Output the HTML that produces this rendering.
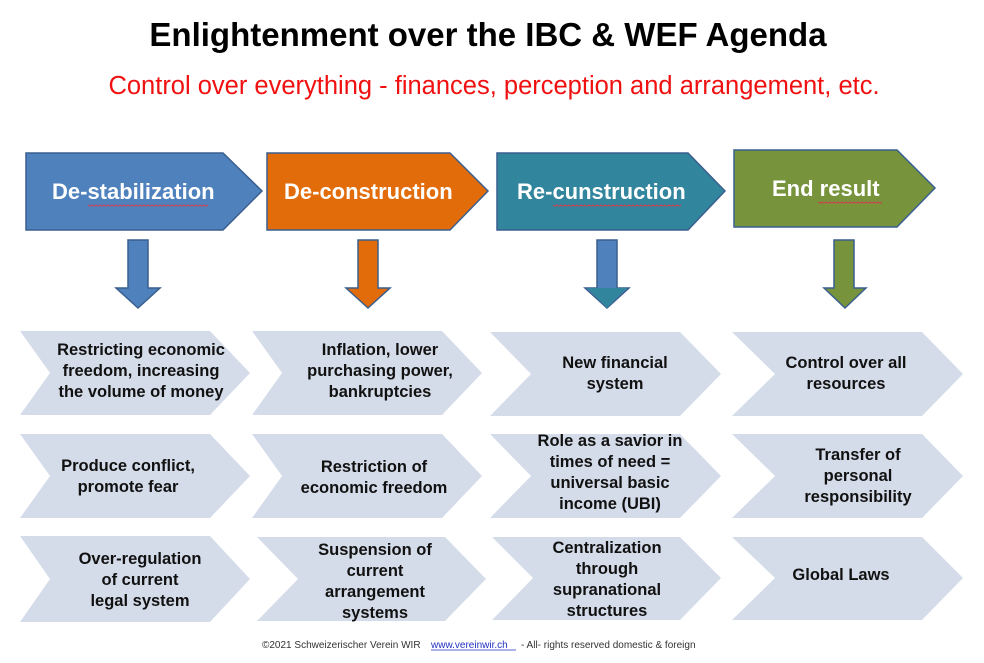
<!DOCTYPE html>
<html><head><meta charset="utf-8"><style>
html,body{margin:0;padding:0;background:#fff;}
svg{display:block;font-family:"Liberation Sans",Arial,sans-serif;}
.h{font-size:22px;font-weight:bold;fill:#fff;}
.t{font-size:16.5px;font-weight:bold;fill:#111;text-anchor:middle;}
</style></head><body>
<svg width="984" height="663" viewBox="0 0 984 663">
<rect width="984" height="663" fill="#fff"/>
<text x="488" y="46" font-size="33" font-weight="bold" text-anchor="middle" fill="#000">Enlightenment over the IBC &amp; WEF Agenda</text>
<text x="494" y="94" font-size="25.5" text-anchor="middle" fill="#f01010">Control over everything - finances, perception and arrangement, etc.</text>

<polygon points="26,153 223,153 262,191 223,230 26,230" fill="#4f81bd" stroke="#3a5f8f" stroke-width="1.5"/>
<polygon points="267,153 450,153 488,191 450,230 267,230" fill="#e36c0a" stroke="#3a5f8f" stroke-width="1.5"/>
<polygon points="497,153 688,153 725,191 688,230 497,230" fill="#31859c" stroke="#3a5f8f" stroke-width="1.5"/>
<polygon points="734,150 897,150 935,188 897,227 734,227" fill="#77933c" stroke="#3a5f8f" stroke-width="1.5"/>
<text class="h" x="52" y="199">De-stabilization</text>
<text class="h" x="284" y="199">De-construction</text>
<text class="h" x="517" y="199">Re-cunstruction</text>
<text class="h" x="772" y="196">End result</text>
<g stroke="#d04050" stroke-width="1" fill="none">
<path d="M88 205 q2 2 4 0 q2 2 4 0 q2 2 4 0 q2 2 4 0 q2 2 4 0 q2 2 4 0 q2 2 4 0 q2 2 4 0 q2 2 4 0 q2 2 4 0 q2 2 4 0 q2 2 4 0 q2 2 4 0 q2 2 4 0 q2 2 4 0 q2 2 4 0 q2 2 4 0 q2 2 4 0 q2 2 4 0 q2 2 4 0 q2 2 4 0 q2 2 4 0 q2 2 4 0 q2 2 4 0 q2 2 4 0 q2 2 4 0 q2 2 4 0 q2 2 4 0 q2 2 4 0 q2 2 4 0"/>
<path d="M553 205 q2 2 4 0 q2 2 4 0 q2 2 4 0 q2 2 4 0 q2 2 4 0 q2 2 4 0 q2 2 4 0 q2 2 4 0 q2 2 4 0 q2 2 4 0 q2 2 4 0 q2 2 4 0 q2 2 4 0 q2 2 4 0 q2 2 4 0 q2 2 4 0 q2 2 4 0 q2 2 4 0 q2 2 4 0 q2 2 4 0 q2 2 4 0 q2 2 4 0 q2 2 4 0 q2 2 4 0 q2 2 4 0 q2 2 4 0 q2 2 4 0 q2 2 4 0 q2 2 4 0 q2 2 4 0 q2 2 4 0 q2 2 4 0"/>
<path d="M818 202 q2 2 4 0 q2 2 4 0 q2 2 4 0 q2 2 4 0 q2 2 4 0 q2 2 4 0 q2 2 4 0 q2 2 4 0 q2 2 4 0 q2 2 4 0 q2 2 4 0 q2 2 4 0 q2 2 4 0 q2 2 4 0 q2 2 4 0 q2 2 4 0"/>
</g>

<g stroke="#3a5f8f" stroke-width="1.5">
<polygon points="128,240 148,240 148,288 160,288 138,308 116,288 128,288" fill="#4f81bd"/>
<polygon points="358,240 378,240 378,288 390,288 368,308 346,288 358,288" fill="#e36c0a"/>
<polygon points="597,240 617,240 617,288 629,288 607,308 585,288 597,288" fill="#4f81bd"/>
<polygon points="587,288 627,288 607,308" fill="#31859c" stroke="none"/>
<polygon points="834,240 854,240 854,288 866,288 845,308 824,288 834,288" fill="#77933c"/>
</g>

<g fill="#d5dce9">
<polygon points="20,331 210,331 250,373 210,415 20,415 50,373"/>
<polygon points="252,331 442,331 482,373 442,415 252,415 282,373"/>
<polygon points="490,332 680,332 721,374 680,416 490,416 531,374"/>
<polygon points="732,332 922,332 963,374 922,416 732,416 775,374"/>
<polygon points="20,434 210,434 250,476 210,518 20,518 50,476"/>
<polygon points="252,434 442,434 482,476 442,518 252,518 282,476"/>
<polygon points="490,434 680,434 721,476 680,518 490,518 531,476"/>
<polygon points="732,434 922,434 963,476 922,518 732,518 775,476"/>
<polygon points="20,536 210,536 250,579 210,622 20,622 50,579"/>
<polygon points="257,537 445,537 486,579 445,621 257,621 298,579"/>
<polygon points="492,537 680,537 721,578 680,620 492,620 533,578"/>
<polygon points="732,537 922,537 963,578 922,620 732,620 775,578"/>
</g>

<text class="t" x="141" y="355">Restricting economic</text>
<text class="t" x="141" y="376">freedom, increasing</text>
<text class="t" x="141" y="397">the volume of money</text>
<text class="t" x="380" y="355">Inflation, lower</text>
<text class="t" x="380" y="376">purchasing power,</text>
<text class="t" x="380" y="397">bankruptcies</text>
<text class="t" x="615" y="368">New financial</text>
<text class="t" x="615" y="389">system</text>
<text class="t" x="846" y="368">Control over all</text>
<text class="t" x="846" y="389">resources</text>

<text class="t" x="128" y="471">Produce conflict,</text>
<text class="t" x="128" y="492">promote fear</text>
<text class="t" x="374" y="472">Restriction of</text>
<text class="t" x="374" y="493">economic freedom</text>
<text class="t" x="610" y="446">Role as a savior in</text>
<text class="t" x="610" y="467">times of need =</text>
<text class="t" x="610" y="488">universal basic</text>
<text class="t" x="610" y="509">income (UBI)</text>
<text class="t" x="858" y="460">Transfer of</text>
<text class="t" x="858" y="481">personal</text>
<text class="t" x="858" y="502">responsibility</text>

<text class="t" x="140" y="564">Over-regulation</text>
<text class="t" x="140" y="585">of current</text>
<text class="t" x="140" y="606">legal system</text>
<text class="t" x="375" y="555">Suspension of</text>
<text class="t" x="375" y="576">current</text>
<text class="t" x="375" y="597">arrangement</text>
<text class="t" x="375" y="618">systems</text>
<text class="t" x="607" y="553">Centralization</text>
<text class="t" x="607" y="574">through</text>
<text class="t" x="607" y="595">supranational</text>
<text class="t" x="607" y="616">structures</text>
<text class="t" x="841" y="580">Global Laws</text>

<text x="262" y="648" font-size="10" fill="#333">©2021 Schweizerischer Verein WIR</text>
<text x="431" y="648" font-size="10" fill="#2030c0">www.vereinwir.ch</text>
<line x1="431" y1="650" x2="516" y2="650" stroke="#2030c0" stroke-width="0.8"/>
<text x="521" y="648" font-size="10" fill="#333">- All- rights reserved domestic &amp; foreign</text>
</svg>
</body></html>
